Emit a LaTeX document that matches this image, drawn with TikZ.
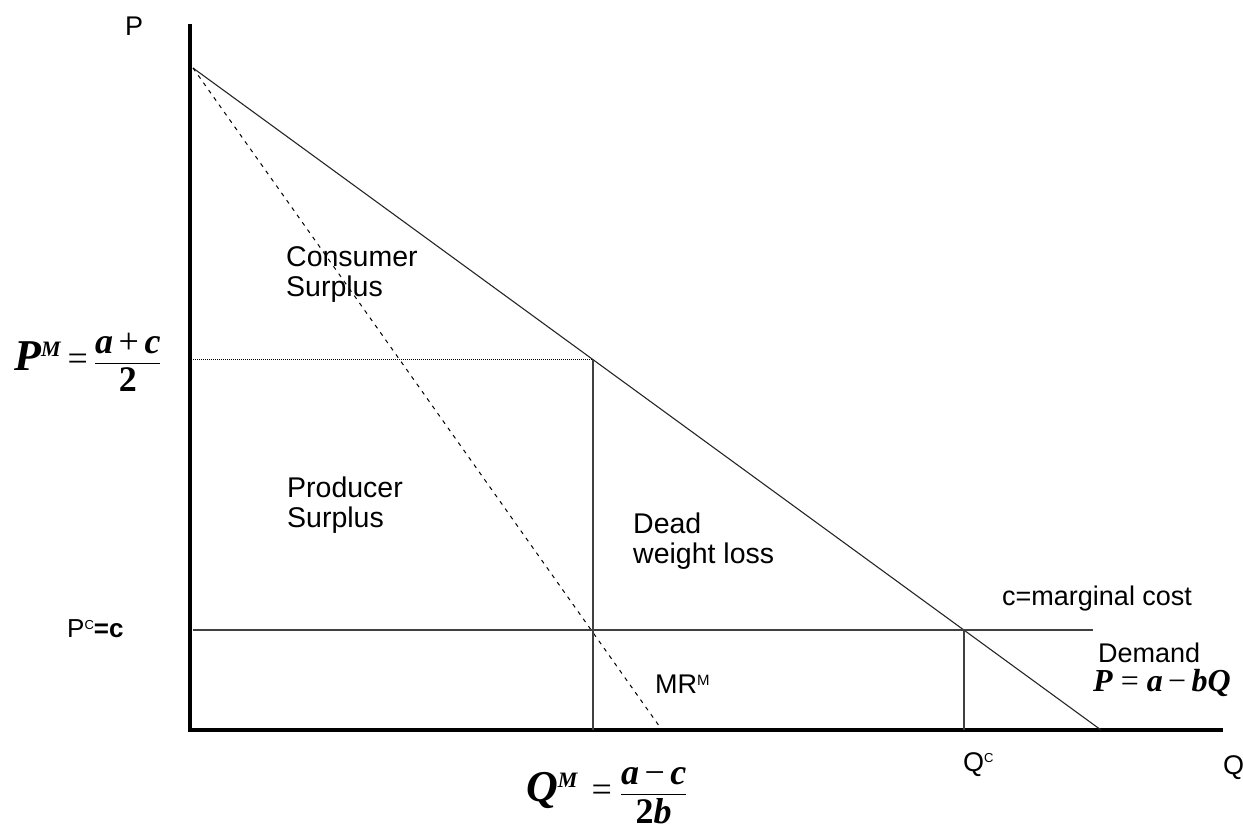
\documentclass[tikz,border=0pt]{standalone}
\usepackage{amsmath}
\usepackage{fontspec}
\setmainfont{Liberation Sans}
\newfontfamily\tms{Liberation Serif}
\newcommand{\bix}{\bfseries\itshape}
\begin{document}
\begin{tikzpicture}[x=1pt,y=-1pt,
  lbl/.style={font=\fontsize{27}{30}\selectfont, inner sep=0pt},
  area/.style={font=\fontsize{28.5}{30}\selectfont, inner sep=0pt, anchor=base west, align=left},
  frm/.style={font=\tms\fontsize{36}{40}\selectfont, inner sep=0pt},
  axisline/.style={line width=4pt},
  curve/.style={line width=1.1pt, black!85},
  guide/.style={line width=1.3pt, black!75},
  mrline/.style={line width=1pt, dash pattern=on 4pt off 5pt},
  dotline/.style={line width=1pt, dash pattern=on 1pt off 1pt}]
\useasboundingbox (0,0) rectangle (1243,830);
% points
\coordinate (ytop) at (190,24);
\coordinate (O) at (190,730);
\coordinate (xend) at (1223,730);
\coordinate (A) at (193,68);
\coordinate (D) at (1101,730);
\coordinate (MRend) at (662,730);
\coordinate (PMax) at (193,359.6);
\coordinate (Mono) at (593,359.6);
\coordinate (MonoB) at (593,730);
\coordinate (Cax) at (193,630);
\coordinate (Cend) at (1093,630);
\coordinate (Comp) at (964,630);
\coordinate (CompB) at (964,730);
% lines
\draw[axisline] (ytop) -- (O) -- (xend);
\draw[curve] (A) -- (D);
\draw[mrline] (A) -- (MRend);
\draw[dotline] (PMax) -- (Mono);
\draw[guide] (Mono) -- (MonoB);
\draw[guide] (Cax) -- (Cend);
\draw[guide] (Comp) -- (CompB);
% labels
\node[lbl, anchor=base west] (Plab) at (125,35) {P};
\node[lbl, anchor=base west] (Qlab) at (1223,774) {Q};
\node[lbl, anchor=base west] (QClab) at (963,771) {Q\raisebox{9pt}{\fontsize{13}{13}\selectfont C}};
\node[lbl, anchor=base west, font=\fontsize{26}{30}\selectfont] (PClab) at (67,637) {P\raisebox{8pt}{\fontsize{13}{13}\selectfont C}\textbf{=c}};
\node[area] (cs) at (286,296) {Consumer\\Surplus};
\node[area] (ps) at (287,527) {Producer\\Surplus};
\node[area] (dwl) at (633,563) {Dead\\weight loss};
\node[lbl, anchor=base west] (mr) at (655,693) {MR\raisebox{8pt}{\fontsize{15}{15}\selectfont M}};
\node[lbl, anchor=base west] (mc) at (1002,605) {c=marginal cost};
\node[lbl, anchor=base west] (dem) at (1098,662) {Demand};
\node[frm, anchor=base west, font=\tms\fontsize{32}{36}\selectfont] (deq) at (1093,691) {{\bix P} = {\bix a}\,−\,{\bix bQ}};
\node[frm, anchor=base west] (pm) at (14,370) {{\fontsize{44}{44}\selectfont\bix P}\raisebox{14pt}{\fontsize{22}{22}\selectfont\bix M}\hspace*{7pt}=\hspace*{6pt}$\displaystyle\frac{\text{\tms\bix a}\mathbin{\text{\tms +}}\text{\tms\bix c}}{\text{\tms\bfseries 2}}$};
\node[frm, anchor=base west] (qm) at (526,801) {{\fontsize{44}{44}\selectfont\bix Q}\raisebox{14pt}{\fontsize{22}{22}\selectfont\bix M}\hspace*{14pt}=\hspace*{8pt}$\displaystyle\frac{\text{\tms\bix a}\mathbin{\text{\tms −}}\text{\tms\bix c}}{\text{\tms\bfseries 2\itshape b}}$};
\end{tikzpicture}
\end{document}
